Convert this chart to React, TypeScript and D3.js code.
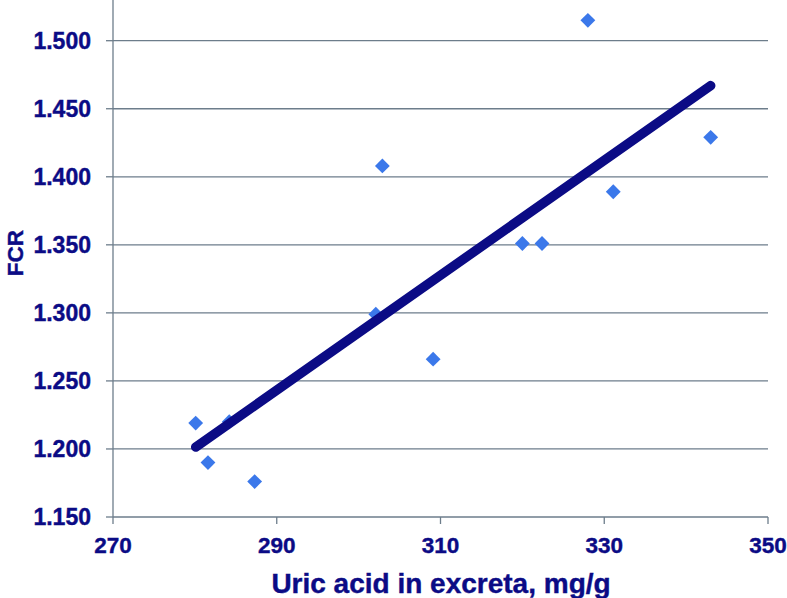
import React from "react";
import * as d3 from "d3";

const uricAcid = [280.1, 281.6, 284.2, 287.3, 302.1, 302.9, 309.1, 320.0, 322.4, 328.0, 331.1, 343.0];
const fcr = [1.219, 1.190, 1.220, 1.176, 1.299, 1.408, 1.266, 1.351, 1.351, 1.515, 1.389, 1.429];
const trendX = [280.1, 343.0];
const trendY = [1.2014, 1.467];
const xTicks = [270, 290, 310, 330, 350];
const yTicks = [1.15, 1.2, 1.25, 1.3, 1.35, 1.4, 1.45, 1.5];

const W = 787, H = 598;
const left = 113, right = 768, bottom = 517;

export default function App() {
  const x = d3.scaleLinear().domain([270, 350]).range([left, right]);
  const y = d3.scaleLinear().domain([1.15, 1.5]).range([bottom, 40.7]);
  const navy = "#0b0b85";
  const grid = "#6d7d8b";
  const font = "'Liberation Sans', Arial, sans-serif";
  const line = d3.line<[number, number]>().x(d => x(d[0])).y(d => y(d[1]));
  const trend: [number, number][] = trendX.map((v, i) => [v, trendY[i]]);
  const diamond = d3.symbol().type(d3.symbolDiamond2).size(140)();
  return (
    <svg width={W} height={H} style={{ position: "absolute", left: 0, top: 0, background: "#fff" }}>
      {yTicks.map(t => (
        <g key={t}>
          {t > 1.15 && <line x1={left} x2={right} y1={y(t)} y2={y(t)} stroke={grid} strokeWidth={1.3} />}
          <line x1={left - 7} x2={left} y1={y(t)} y2={y(t)} stroke={grid} strokeWidth={1.3} />
          <text x={91} y={y(t)} dy="0.36em" textAnchor="end" fontFamily={font} fontWeight="bold" fontSize={23} fill={navy} stroke={navy} strokeWidth={0.4}>
            {d3.format(".3f")(t)}
          </text>
        </g>
      ))}
      <line x1={left} x2={left} y1={0} y2={bottom} stroke={grid} strokeWidth={1.3} />
      <line x1={left} x2={right} y1={bottom} y2={bottom} stroke={grid} strokeWidth={1.3} />
      {xTicks.map(t => (
        <g key={t}>
          <line x1={x(t)} x2={x(t)} y1={bottom} y2={bottom + 7} stroke={grid} strokeWidth={1.3} />
          <text x={x(t)} y={553} textAnchor="middle" fontFamily={font} fontWeight="bold" fontSize={22.5} fill={navy} stroke={navy} strokeWidth={0.4}>
            {t}
          </text>
        </g>
      ))}
      {uricAcid.map((v, i) => (
        <path key={i} d={diamond!} transform={`translate(${x(v)},${y(fcr[i])})`} fill="#3b78ea" />
      ))}
      <path d={line(trend)!} stroke={navy} strokeWidth={9.5} strokeLinecap="round" fill="none" />
      <text x={441} y={593} textAnchor="middle" fontFamily={font} fontWeight="bold" fontSize={28} fill={navy} stroke={navy} strokeWidth={0.4}>
        Uric acid in excreta, mg/g
      </text>
      <text transform="translate(23,253) rotate(-90)" textAnchor="middle" fontFamily={font} fontWeight="bold" fontSize={22.5} fill={navy} stroke={navy} strokeWidth={0.4}>
        FCR
      </text>
    </svg>
  );
}
